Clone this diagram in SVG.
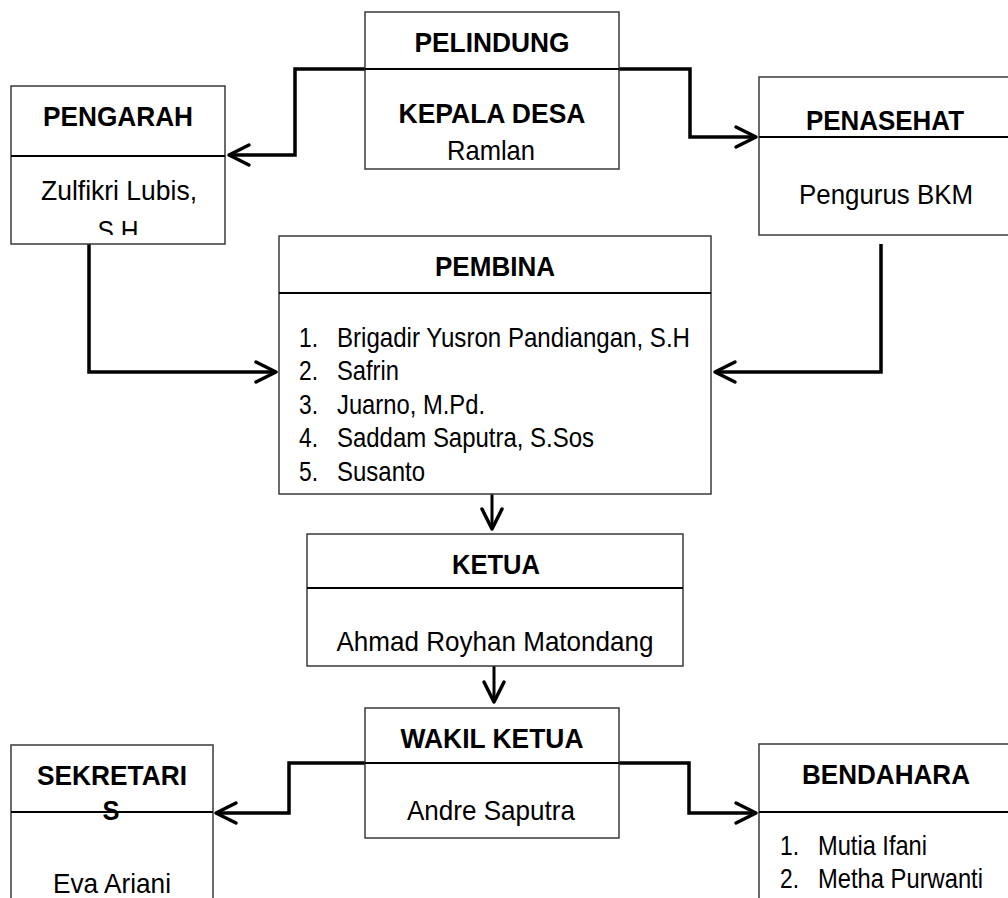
<svg xmlns="http://www.w3.org/2000/svg" width="1008" height="898" viewBox="0 0 1008 898">
<style>
.box{fill:#fff;stroke:#3a3a3a;stroke-width:1.5}
.div{stroke:#000;stroke-width:2}
.t{font-family:"Liberation Sans",Arial,sans-serif;font-size:28px;fill:#000}
.h{font-weight:bold;text-anchor:middle}
.c{text-anchor:middle}
.con{fill:none;stroke:#000;stroke-width:3.5;stroke-linejoin:miter}
.v{stroke-width:3}
</style>
<defs>
<marker id="arr" markerUnits="userSpaceOnUse" viewBox="-24 -14 28 28" refX="0" refY="0" markerWidth="28" markerHeight="28" orient="auto">
<path d="M-20,-10 L0,0 L-20,10" fill="none" stroke="#000" stroke-width="3.5" stroke-linejoin="round" stroke-linecap="round"/>
</marker>
<clipPath id="clipPeng"><rect x="11" y="156" width="214" height="79"/></clipPath>
</defs>
<rect width="1008" height="898" fill="#fff"/>
<g id="connectors">
<path class="con" d="M365,69 H295 V155 H229" marker-end="url(#arr)"/>
<path class="con" d="M619,69 H690 V137 H756" marker-end="url(#arr)"/>
<path class="con" d="M89,244 V372 H276" marker-end="url(#arr)"/>
<path class="con" d="M881,244 V372 H715" marker-end="url(#arr)"/>
<path class="con v" d="M492,494 V529" marker-end="url(#arr)"/>
<path class="con v" d="M494,666 V702" marker-end="url(#arr)"/>
<path class="con" d="M365,763 H289 V813 H216" marker-end="url(#arr)"/>
<path class="con" d="M619,763 H689 V813 H756" marker-end="url(#arr)"/>
</g>
<g id="pelindung">
<rect class="box" x="365" y="12" width="254" height="157"/>
<line class="div" x1="365" y1="69" x2="619" y2="69"/>
<text class="t h" x="492" y="52" textLength="155" lengthAdjust="spacingAndGlyphs">PELINDUNG</text>
<text class="t h" x="492" y="123" textLength="187" lengthAdjust="spacingAndGlyphs">KEPALA DESA</text>
<text class="t c" x="491" y="160" textLength="88" lengthAdjust="spacingAndGlyphs">Ramlan</text>
</g>
<g id="pengarah">
<rect class="box" x="11" y="86" width="214" height="158"/>
<line class="div" x1="11" y1="156" x2="225" y2="156"/>
<text class="t h" x="118" y="126" textLength="150" lengthAdjust="spacingAndGlyphs">PENGARAH</text>
<g clip-path="url(#clipPeng)">
<text class="t c" x="119" y="200" textLength="156" lengthAdjust="spacingAndGlyphs">Zulfikri Lubis,</text>
<text class="t c" x="118" y="240" textLength="41" lengthAdjust="spacingAndGlyphs">S.H</text>
</g>
</g>
<g id="penasehat">
<rect class="box" x="759" y="77" width="270" height="158"/>
<line class="div" x1="759" y1="137" x2="1010" y2="137"/>
<text class="t h" x="885" y="130" textLength="158" lengthAdjust="spacingAndGlyphs">PENASEHAT</text>
<text class="t c" x="886" y="204" textLength="174" lengthAdjust="spacingAndGlyphs">Pengurus BKM</text>
</g>
<g id="pembina">
<rect class="box" x="279" y="236" width="432" height="258"/>
<line class="div" x1="279" y1="293" x2="711" y2="293"/>
<text class="t h" x="495" y="276" textLength="120" lengthAdjust="spacingAndGlyphs">PEMBINA</text>
<text class="t" x="299" y="347" textLength="19" lengthAdjust="spacingAndGlyphs">1.</text><text class="t" x="337" y="347" textLength="353" lengthAdjust="spacingAndGlyphs">Brigadir Yusron Pandiangan, S.H</text>
<text class="t" x="299" y="380" textLength="19" lengthAdjust="spacingAndGlyphs">2.</text><text class="t" x="337" y="380" textLength="62" lengthAdjust="spacingAndGlyphs">Safrin</text>
<text class="t" x="299" y="414" textLength="19" lengthAdjust="spacingAndGlyphs">3.</text><text class="t" x="337" y="414" textLength="148" lengthAdjust="spacingAndGlyphs">Juarno, M.Pd.</text>
<text class="t" x="299" y="447" textLength="19" lengthAdjust="spacingAndGlyphs">4.</text><text class="t" x="337" y="447" textLength="257" lengthAdjust="spacingAndGlyphs">Saddam Saputra, S.Sos</text>
<text class="t" x="299" y="481" textLength="19" lengthAdjust="spacingAndGlyphs">5.</text><text class="t" x="337" y="481" textLength="88" lengthAdjust="spacingAndGlyphs">Susanto</text>
</g>
<g id="ketua">
<rect class="box" x="307" y="534" width="376" height="132"/>
<line class="div" x1="307" y1="588" x2="683" y2="588"/>
<text class="t h" x="496" y="574" textLength="88" lengthAdjust="spacingAndGlyphs">KETUA</text>
<text class="t c" x="495" y="651" textLength="317" lengthAdjust="spacingAndGlyphs">Ahmad Royhan Matondang</text>
</g>
<g id="wakil-ketua">
<rect class="box" x="365" y="708" width="254" height="130"/>
<line class="div" x1="365" y1="763" x2="619" y2="763"/>
<text class="t h" x="492" y="748" textLength="183" lengthAdjust="spacingAndGlyphs">WAKIL KETUA</text>
<text class="t c" x="491" y="820" textLength="168" lengthAdjust="spacingAndGlyphs">Andre Saputra</text>
</g>
<g id="sekretaris">
<rect class="box" x="11" y="745" width="202" height="170"/>
<line class="div" x1="11" y1="812" x2="213" y2="812"/>
<text class="t h" x="112" y="785" textLength="150" lengthAdjust="spacingAndGlyphs">SEKRETARI</text>
<text class="t h" x="111" y="820" textLength="17" lengthAdjust="spacingAndGlyphs">S</text>
<text class="t c" x="112" y="893" textLength="118" lengthAdjust="spacingAndGlyphs">Eva Ariani</text>
</g>
<g id="bendahara">
<rect class="box" x="759" y="744" width="270" height="170"/>
<line class="div" x1="759" y1="812" x2="1010" y2="812"/>
<text class="t h" x="886" y="784" textLength="168" lengthAdjust="spacingAndGlyphs">BENDAHARA</text>
<text class="t" x="780" y="855" textLength="19" lengthAdjust="spacingAndGlyphs">1.</text><text class="t" x="818" y="855" textLength="109" lengthAdjust="spacingAndGlyphs">Mutia Ifani</text>
<text class="t" x="780" y="888" textLength="19" lengthAdjust="spacingAndGlyphs">2.</text><text class="t" x="818" y="888" textLength="165" lengthAdjust="spacingAndGlyphs">Metha Purwanti</text>
</g>
</svg>
